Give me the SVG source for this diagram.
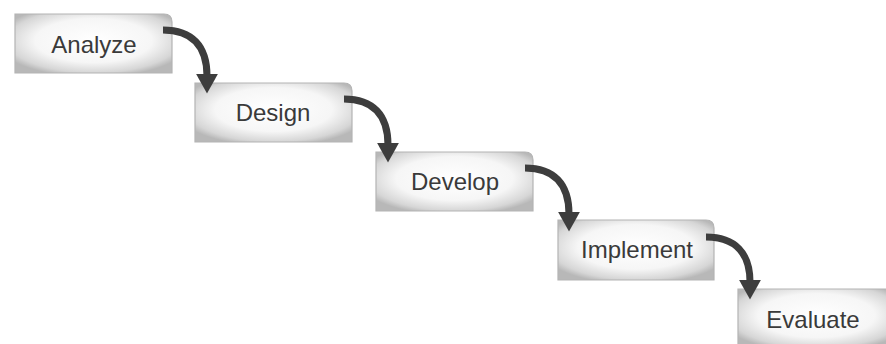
<svg xmlns="http://www.w3.org/2000/svg" width="886" height="344" viewBox="0 0 886 344">
<defs>
<radialGradient id="boxfill" cx="0.5" cy="0.45" r="0.62">
<stop offset="0" stop-color="#ffffff"/>
<stop offset="0.6" stop-color="#f6f6f6"/>
<stop offset="0.88" stop-color="#d6d6d6"/>
<stop offset="1" stop-color="#b8b8b8"/>
</radialGradient>
<marker id="ah" markerUnits="userSpaceOnUse" markerWidth="22" markerHeight="22" refX="2" refY="10" orient="auto" viewBox="0 0 20 20">
<path d="M0,0 L18,10 L0,20 z" fill="#3d3d3d"/>
</marker>
</defs>
<style>
.box{fill:url(#boxfill);stroke:#b4b4b4;stroke-width:1.2}
.lbl{font-family:"Liberation Sans",Arial,sans-serif;font-size:24px;fill:#3a3a3a;text-anchor:middle}
.arr{fill:none;stroke:#3d3d3d;stroke-width:7;marker-end:url(#ah)}
</style>
<rect width="886" height="344" fill="#ffffff"/>
<g id="analyze">
<path class="box" d="M15,14 H164 Q172,14 172,22 V73 H15 Z"/>
<text class="lbl" x="94" y="53">Analyze</text>
</g>
<g id="design">
<path class="box" d="M195,83 H344 Q352,83 352,91 V142 H195 Z"/>
<text class="lbl" x="273" y="121">Design</text>
</g>
<g id="develop">
<path class="box" d="M376,152 H525 Q533,152 533,160 V211 H376 Z"/>
<text class="lbl" x="455" y="190">Develop</text>
</g>
<g id="implement">
<path class="box" d="M558,220 H706 Q714,220 714,228 V280 H558 Z"/>
<text class="lbl" x="637" y="258">Implement</text>
</g>
<g id="evaluate">
<path class="box" d="M738,289 H887 Q895,289 895,297 V348 H738 Z"/>
<text class="lbl" x="813" y="328">Evaluate</text>
</g>
<g id="connectors">
<path class="arr" d="M163,30 C192,30 207,46 207,76"/>
<path class="arr" d="M344,99 C373,99 388,115 388,145"/>
<path class="arr" d="M525,168 C554,168 569,184 569,214"/>
<path class="arr" d="M706,237 C735,237 750,253 750,282"/>
</g>
</svg>
